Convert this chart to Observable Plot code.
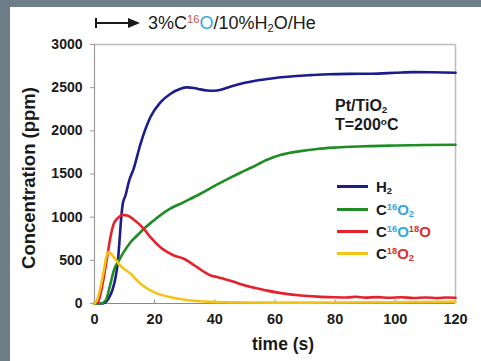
<!DOCTYPE html>
<html><head><meta charset="utf-8">
<script src="https://cdn.jsdelivr.net/npm/d3@7"></script>
<script src="https://cdn.jsdelivr.net/npm/@observablehq/plot@0.6"></script>
<style>
body{margin:0;background:#fff;}
#wrap{position:relative;width:481px;height:361px;overflow:hidden;font-family:"Liberation Sans",Arial,sans-serif;color:#1a1a1a;}
#wrap svg.chart{position:absolute;left:0;top:0;}
.bar-top{position:absolute;left:0;top:0;width:481px;height:7px;background:#6e7e88;}
.bar-left{position:absolute;left:0;top:0;width:10px;height:361px;background:#6e7e88;}
.t{position:absolute;white-space:nowrap;line-height:1;}
.t sup,.t sub{font-size:62%;line-height:0;}
.t sup{vertical-align:0.55em;}
.t sub{vertical-align:-0.25em;}
.blue{color:#38a6de;}
.red{color:#d8322c;}
.leg{position:absolute;left:337px;height:20px;display:flex;align-items:center;font-weight:bold;font-size:15px;white-space:nowrap;line-height:1;}
.leg .sw{width:31px;height:3px;margin-right:8px;}
.leg sup,.leg sub{font-size:62%;line-height:0;}
.leg sup{vertical-align:0.55em;}
.leg sub{vertical-align:-0.25em;}
</style>
</head><body>
<div id="wrap">
</div>
<script>
// ---- data ----
const xTicks = [0, 20, 40, 60, 80, 100, 120];
const yTicks = [0, 500, 1000, 1500, 2000, 2500, 3000];

const seriesNames = ["H2", "C16O2", "C16O18O", "C18O2"];
const seriesColors = ["#1c1c8c", "#1f8c24", "#e5212b", "#f4c414"];

const h2Time  = [0,2,3,4,5,6,7,7.8,8.4,8.9,9.4,10.3,11.5,13,15.3,18.6,21.9,25.3,28.6,30.8,33,35.2,37.5,39.7,42,44.1,46.5,49.6,53,57.4,62,67,72,78,85,92,100,106,112,120];
const h2Value = [0,0,3,25,80,160,305,498,768,1000,1155,1251,1420,1560,1850,2160,2330,2430,2488,2503,2496,2480,2468,2464,2475,2499,2525,2553,2578,2600,2620,2635,2645,2655,2660,2662,2672,2680,2678,2672];

const co2Time  = [0,2,3.7,5.3,6.4,8.1,9.7,12,14.2,16.4,19.7,24.2,29.7,35.2,40.8,45,48.5,52,57.4,62,68.5,74,79.5,85,90,100,110,120];
const co2Value = [0,0,35,228,382,498,595,710,788,865,962,1078,1174,1271,1380,1455,1515,1572,1665,1722,1765,1790,1805,1815,1822,1830,1836,1838];

const mixTime  = [0,1,2,3.1,4.2,5.3,6.4,8.1,9.2,10.9,13.1,16.4,18.6,21.9,24,26.4,29.7,32,34.1,36.5,38.6,41,43,46,49,52,57,62,68.5,74,79.6,84,87,90,94,98,102,106,110,114,117,120];
const mixValue = [0,10,112,305,537,768,923,1000,1027,1020,970,865,768,652,600,556,518,470,421,365,324,305,285,255,220,190,152,120,93,80,73,70,78,68,74,66,72,64,70,62,70,66];

const c18Time  = [0,1,2,3.1,4.2,4.8,6.4,8.6,12,15.3,19.7,24.2,28,31.9,37,43,50,60,70,80,90,100,110,120];
const c18Value = [0,55,189,382,576,595,537,440,344,228,131,81,55,35,22,15,12,10,10,12,14,15,18,20];

// ---- build tidy table ----
const raw = [[h2Time,h2Value],[co2Time,co2Value],[mixTime,mixValue],[c18Time,c18Value]];
const rows = [];
raw.forEach(([ts, vs], i) => ts.forEach((t, j) => rows.push({series: seriesNames[i], t, v: vs[j]})));

const chart = Plot.plot({
  width: 481, height: 361,
  marginLeft: 94, marginRight: 26, marginTop: 44, marginBottom: 58,
  style: {fontFamily: '"Liberation Sans", Arial, sans-serif', fontWeight: "bold", fontSize: "14px", color: "#1a1a1a", background: "transparent"},
  x: {domain: [0, 120]},
  y: {domain: [0, 3000]},
  color: {domain: seriesNames, range: seriesColors},
  marks: [
    Plot.ruleY([3000], {stroke: "#bdbdbd", strokeWidth: 1.5}),
    Plot.ruleX([120], {stroke: "#bdbdbd", strokeWidth: 1.5}),
    Plot.ruleX([0], {stroke: "#9a9a9a", strokeWidth: 1.2}),
    Plot.ruleY([0], {stroke: "#8a8a8a", strokeWidth: 1.2}),
    Plot.ruleX(xTicks.slice(1, -1), {y1: 0, y2: 40, stroke: "#8a8a8a"}),
    Plot.axisY({ticks: yTicks, tickSize: 4, tickPadding: 8, tickFormat: d => String(d), label: null, stroke: "#9a9a9a", fontSize: 14}),
    Plot.axisX({ticks: xTicks, tickSize: 0, tickPadding: 10, tickFormat: d => String(d), label: null, fontSize: 14.5}),
    Plot.line(rows, {x: "t", y: "v", z: "series", stroke: "series", strokeWidth: 2.6, curve: "monotone-x"}),
    Plot.text(["Concentration (ppm)"], {frameAnchor: "left", textAnchor: "middle", lineAnchor: "middle", dx: -65, dy: 4, rotate: -90, fontSize: 18.5, fontWeight: "bold"}),
    Plot.text(["time (s)"], {frameAnchor: "bottom", textAnchor: "middle", lineAnchor: "middle", dx: 8, dy: 41, fontSize: 17.5, fontWeight: "bold"})
  ]
});
chart.classList.add("chart");
const wrap = document.getElementById("wrap");
wrap.appendChild(chart);

wrap.insertAdjacentHTML("beforeend", `
<div class="bar-top"></div><div class="bar-left"></div>
<svg style="position:absolute;left:94px;top:15px" width="50" height="16">
  <line x1="2" y1="3" x2="2" y2="13" stroke="#1a1a1a" stroke-width="2"/>
  <line x1="2" y1="8" x2="36" y2="8" stroke="#1a1a1a" stroke-width="2"/>
  <polygon points="34,3 46,8 34,13" fill="#1a1a1a"/>
</svg>
<div class="t" style="left:148px;top:14px;font-size:18px;">3%C<sup style="color:#c9553e">16</sup><span class="blue">O</span>/10%H<sub>2</sub>O/He</div>
<div class="t" style="left:335px;top:98px;font-size:16px;font-weight:bold;">Pt/TiO<sub>2</sub></div>
<div class="t" style="left:335px;top:117px;font-size:16px;font-weight:bold;">T=200<sup>o</sup>C</div>
`);
const legendLabels = [
  `H<sub>2</sub>`,
  `C<sup class="blue">16</sup><span class="blue">O<sub>2</sub></span>`,
  `C<sup class="blue">16</sup><span class="blue">O</span><sup class="red">18</sup><span class="red">O</span>`,
  `C<sup class="red">18</sup><span class="red">O<sub>2</sub></span>`
];
const legendY = [186.5, 209.5, 231.5, 253.5];
seriesNames.forEach((s, i) => {
  wrap.insertAdjacentHTML("beforeend",
    `<div class="leg" style="top:${legendY[i]-10}px"><div class="sw" style="background:${seriesColors[i]}"></div><span>${legendLabels[i]}</span></div>`);
});
</script>
</body></html>
